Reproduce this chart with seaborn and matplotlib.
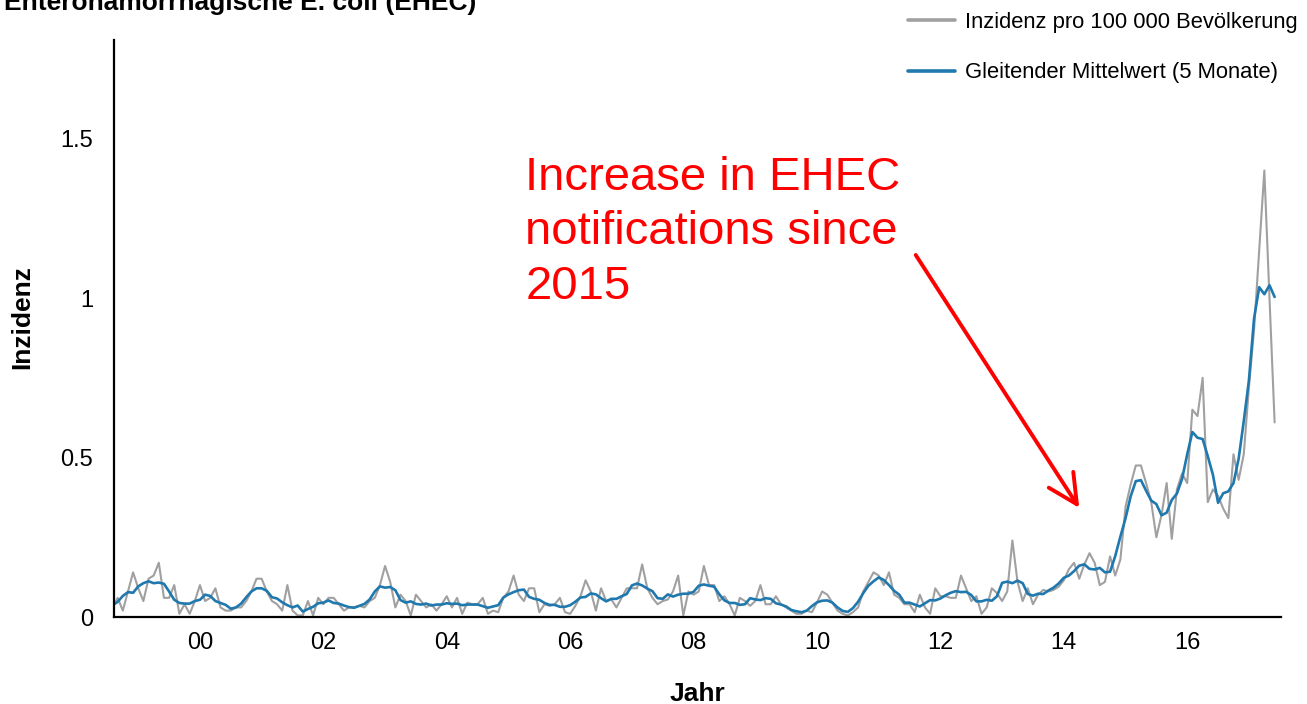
import numpy as np
import pandas as pd
import matplotlib
matplotlib.use("Agg")
import matplotlib.pyplot as plt
import seaborn as sns
from matplotlib import font_manager

# monthly EHEC incidence per 100 000 inhabitants
inc_1999 = [0.03, 0.06, 0.02, 0.08, 0.14, 0.09, 0.05, 0.12, 0.13, 0.17, 0.06]  # Feb-Dec
inc_2000 = [0.06, 0.10, 0.01, 0.04, 0.01, 0.05, 0.10, 0.05, 0.06, 0.09, 0.03, 0.02]
inc_2001 = [0.02, 0.03, 0.03, 0.05, 0.08, 0.12, 0.12, 0.08, 0.05, 0.04, 0.02, 0.10]
inc_2002 = [0.02, 0.005, 0.005, 0.05, 0.005, 0.06, 0.04, 0.06, 0.06, 0.04, 0.02, 0.03]
inc_2003 = [0.03, 0.035, 0.03, 0.05, 0.06, 0.10, 0.16, 0.11, 0.03, 0.07, 0.05, 0.005]
inc_2004 = [0.07, 0.05, 0.03, 0.04, 0.02, 0.04, 0.065, 0.03, 0.06, 0.01, 0.045, 0.04]
inc_2005 = [0.04, 0.06, 0.01, 0.02, 0.015, 0.06, 0.08, 0.13, 0.07, 0.05, 0.09, 0.09]
inc_2006 = [0.015, 0.04, 0.035, 0.04, 0.06, 0.015, 0.01, 0.035, 0.065, 0.115, 0.08, 0.02]
inc_2007 = [0.09, 0.05, 0.055, 0.03, 0.06, 0.09, 0.09, 0.09, 0.165, 0.09, 0.06, 0.04]
inc_2008 = [0.05, 0.055, 0.08, 0.13, 0.005, 0.08, 0.07, 0.08, 0.16, 0.10, 0.10, 0.05]
inc_2009 = [0.065, 0.04, 0.005, 0.06, 0.05, 0.035, 0.05, 0.10, 0.04, 0.04, 0.065, 0.04]
inc_2010 = [0.03, 0.02, 0.01, 0.01, 0.02, 0.015, 0.045, 0.08, 0.07, 0.045, 0.02, 0.01]
inc_2011 = [0.005, 0.015, 0.03, 0.08, 0.11, 0.14, 0.13, 0.10, 0.14, 0.07, 0.06, 0.04]
inc_2012 = [0.04, 0.015, 0.07, 0.03, 0.01, 0.09, 0.065, 0.065, 0.06, 0.06, 0.13, 0.09]
inc_2013 = [0.05, 0.065, 0.01, 0.03, 0.09, 0.075, 0.05, 0.08, 0.24, 0.11, 0.05, 0.09]
inc_2014 = [0.04, 0.07, 0.085, 0.08, 0.085, 0.095, 0.115, 0.15, 0.17, 0.12, 0.165, 0.20]
inc_2015 = [0.17, 0.10, 0.11, 0.19, 0.13, 0.18, 0.345, 0.415, 0.475, 0.475, 0.42, 0.36]
inc_2016 = [0.25, 0.32, 0.42, 0.245, 0.40, 0.45, 0.42, 0.65, 0.63, 0.75, 0.36, 0.40]
inc_2017 = [0.38, 0.34, 0.31, 0.51, 0.43, 0.51, 0.72, 0.90, 1.15, 1.40, 1.00, 0.61]

years = list(range(1999, 2018))
monthly = [inc_1999, inc_2000, inc_2001, inc_2002, inc_2003, inc_2004, inc_2005,
           inc_2006, inc_2007, inc_2008, inc_2009, inc_2010, inc_2011, inc_2012,
           inc_2013, inc_2014, inc_2015, inc_2016, inc_2017]

tick_years = list(range(2000, 2019))
label_years = list(range(2000, 2017, 2))
label_text = ["00", "02", "04", "06", "08", "10", "12", "14", "16"]
y_ticks = [0, 0.5, 1, 1.5]
y_labels = ["0", "0.5", "1", "1.5"]

rows = []
for yr, vals in zip(years, monthly):
    first = 13 - len(vals)   # 1999 starts in February
    for k, v in enumerate(vals):
        rows.append((yr + (first - 1 + k) / 12, v))
df = pd.DataFrame(rows, columns=["t", "inzidenz"])
# 5-month moving average, as in the legend
df["mittel"] = df["inzidenz"].rolling(5, center=True, min_periods=1).mean()

sns.set_style("white")
names = {f.name for f in font_manager.fontManager.ttflist}
narrow = [f for f in ["Liberation Sans Narrow", "DejaVu Sans Condensed"] if f in names]
plt.rcParams["font.family"] = narrow + ["Liberation Sans", "DejaVu Sans"]
plt.rcParams["text.color"] = "black"
plt.rcParams["axes.labelcolor"] = "black"
plt.rcParams["xtick.color"] = "black"
plt.rcParams["ytick.color"] = "black"

fig = plt.figure(figsize=(13.07, 7.04), dpi=100)
ax = fig.add_axes([114 / 1307, 87 / 704, 1167 / 1307, 577 / 704])

sns.lineplot(data=df, x="t", y="inzidenz", color="#a0a0a0", lw=1.5, ax=ax,
             label="Inzidenz pro 100 000 Bevölkerung")
sns.lineplot(data=df, x="t", y="mittel", color="#1f78ae", lw=1.9, ax=ax,
             label="Gleitender Mittelwert (5 Monate)")

ax.set_xlim(1999.107, 2018.02)
ax.set_ylim(0, 1.809)

ax.set_xticks(tick_years)
ax.set_xticklabels([])
ax.set_xticks([y + 0.5 for y in label_years], minor=True)
ax.set_xticklabels(label_text, minor=True)
ax.tick_params(axis="x", which="minor", length=0, pad=11, labelsize=17)
ax.tick_params(axis="x", which="major", length=6, width=1.5, direction="out")
ax.set_yticks(y_ticks)
ax.set_yticklabels(y_labels)
ax.tick_params(axis="y", length=10, width=1.5, pad=5, labelsize=17, direction="out")

for s in ["top", "right"]:
    ax.spines[s].set_visible(False)
for s in ["left", "bottom"]:
    ax.spines[s].set_color("black")
    ax.spines[s].set_linewidth(1.6)

ax.set_xlabel("Jahr", fontsize=19, fontweight="bold", family="Liberation Sans")
ax.xaxis.set_label_coords(0.5, -0.112)
ax.set_ylabel("Inzidenz", fontsize=19, fontweight="bold", family="Liberation Sans")
ax.yaxis.set_label_coords(-0.068, 0.52)

leg = ax.legend(loc="upper left", bbox_to_anchor=(901 / 1307, 1 - 5 / 704), bbox_transform=fig.transFigure,
                frameon=False, fontsize=15.8, handlelength=2.15, handletextpad=0.45,
                labelspacing=1.35, borderpad=0.3, borderaxespad=0)
for line in leg.get_lines():
    line.set_linewidth(2.6)

# title, cut off at the top edge as in the original
fig.text(4 / 1307, 1 - 10 / 704, "Enterohämorrhagische E. coli (EHEC)", fontsize=19,
         fontweight="bold", family="Liberation Sans", ha="left", va="baseline")

ax.text(2005.77, 1.445, "Increase in EHEC\nnotifications since\n2015", color="red",
        fontsize=34, family="Liberation Sans", ha="left", va="top", linespacing=1.3)
ax.annotate("", xy=(2014.75, 0.342), xytext=(2012.10, 1.135),
            arrowprops=dict(arrowstyle="->,head_length=0.7,head_width=0.35",
                            color="red", lw=2.8, mutation_scale=30, shrinkA=0, shrinkB=0))

fig.savefig("out.png", dpi=100)
